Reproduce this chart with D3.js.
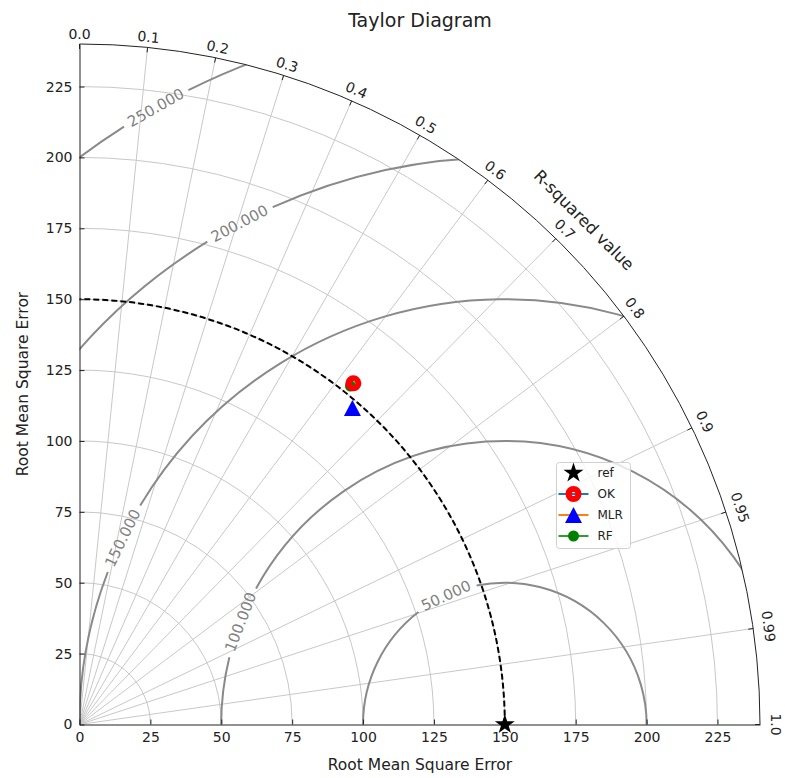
<!DOCTYPE html>
<html>
<head>
<meta charset="utf-8">
<script src="https://cdn.jsdelivr.net/npm/d3@7"></script>
<style>
  body { margin: 0; background: #fff; }
  text { font-family: "DejaVu Sans", sans-serif; }
</style>
</head>
<body>
<svg id="chart" width="785" height="778"></svg>
<script>
// data
var names = ["ref", "OK", "MLR", "RF"];
var stdDevs = [150, 154.3, 147.4, 152.9];
var corrs = [1.0, 0.626, 0.653, 0.625];
var radialTicks = [0, 25, 50, 75, 100, 125, 150, 175, 200, 225];
var corrTicks = [0, 0.1, 0.2, 0.3, 0.4, 0.5, 0.6, 0.7, 0.8, 0.9, 0.95, 0.99, 1.0];
var corrTickLabels = ["0.0", "0.1", "0.2", "0.3", "0.4", "0.5", "0.6", "0.7", "0.8", "0.9", "0.95", "0.99", "1.0"];
var rmsLevels = [50, 100, 150, 200, 250];
var rmsLabels = ["50.000", "100.000", "150.000", "200.000", "250.000"];
var refStd = 150;
var maxStd = 240;

// where each contour label sits (degrees round the contour centre)
var labelAt = { 50: 114.5, 100: 158.8, 150: 154, 200: 117.9, 250: 119.5 };

var styles = {
  ref: { shape: "star", color: "#000000", line: null },
  OK:  { shape: "ring", color: "#ff0000", line: "#1f77b4" },
  MLR: { shape: "tri",  color: "#0000ff", line: "#ff7f0e" },
  RF:  { shape: "dot",  color: "#008000", line: "#2ca02c" }
};

var svg = d3.select("#chart");
svg.append("rect").attr("width", 785).attr("height", 778).attr("fill", "#fff");

var x = d3.scaleLinear().domain([0, maxStd]).range([79.5, 760]);
var y = d3.scaleLinear().domain([0, maxStd]).range([724.5, 44]);
var k = x(1) - x(0);
var cx = x(0), cy = y(0), R = x(maxStd) - x(0);

function polar(s, c) {
  var a = Math.acos(c);
  return [x(s * Math.cos(a)), y(s * Math.sin(a))];
}

svg.append("defs").append("clipPath").attr("id", "quad").append("path")
  .attr("d", "M" + cx + "," + cy + "L" + cx + "," + (cy - R) +
    "A" + R + "," + R + " 0 0 1 " + (cx + R) + "," + cy + "Z");

// grid: std circles and correlation rays
var grid = svg.append("g").attr("fill", "none").attr("stroke", "#c8c8c8").attr("stroke-width", 1);
grid.selectAll("path").data(radialTicks.filter(function (d) { return d > 0; })).join("path")
  .attr("d", function (s) { var p = d3.path(); p.arc(cx, cy, s * k, -Math.PI / 2, 0); return p.toString(); });
grid.selectAll("line").data(corrTicks.filter(function (c) { return c > 0 && c < 1; })).join("line")
  .attr("x1", cx).attr("y1", cy)
  .attr("x2", function (c) { return polar(maxStd, c)[0]; })
  .attr("y2", function (c) { return polar(maxStd, c)[1]; });

// RMS contours centred on the reference point
var cont = svg.append("g").attr("clip-path", "url(#quad)").attr("fill", "none")
  .attr("stroke", "#8a8a8a").attr("stroke-width", 2);
var contLab = svg.append("g").attr("fill", "#808080").attr("font-size", 15).attr("text-anchor", "middle");
rmsLevels.forEach(function (lv, i) {
  var deg = labelAt[lv], t0 = deg * Math.PI / 180;
  var ccx = x(refStd), rp = lv * k;
  var lx = ccx + rp * Math.cos(t0), ly = cy - rp * Math.sin(t0);
  var txt = contLab.append("text")
    .attr("transform", "translate(" + lx + "," + ly + ") rotate(" + (90 - deg) + ")")
    .attr("dy", "0.35em").text(rmsLabels[i]);
  var w = txt.node().getComputedTextLength();
  var dt = (w / 2 + 6) / rp;
  var p = d3.path();
  p.arc(ccx, cy, rp, -t0 + dt, -t0 - dt + 2 * Math.PI, false);
  cont.append("path").attr("d", p.toString());
});

// reference std dashed circle
var refPath = d3.path();
refPath.arc(cx, cy, refStd * k, 0, -Math.PI / 2, true);
svg.append("path").attr("d", refPath.toString()).attr("fill", "none")
  .attr("stroke", "#000").attr("stroke-width", 2).attr("stroke-dasharray", "6,3");

// axes
var xAxis = d3.axisBottom(x).tickValues(radialTicks).tickSizeInner(-5).tickSizeOuter(0).tickPadding(8);
var yAxis = d3.axisLeft(y).tickValues(radialTicks).tickSizeInner(-5).tickSizeOuter(0).tickPadding(7);
var gx = svg.append("g").attr("transform", "translate(0," + cy + ")").call(xAxis);
var gy = svg.append("g").attr("transform", "translate(" + cx + ",0)").call(yAxis);
[gx, gy].forEach(function (g) {
  g.attr("font-family", null).attr("font-size", 14);
  g.selectAll("text").attr("fill", "#222");
  g.selectAll("line, path").attr("stroke", "#222");
});

// outer arc with inward ticks and tangent labels
var outer = d3.path();
outer.arc(cx, cy, R, -Math.PI / 2, 0);
svg.append("path").attr("d", outer.toString()).attr("fill", "none").attr("stroke", "#222").attr("stroke-width", 1);
svg.append("g").attr("stroke", "#222").selectAll("line").data(corrTicks).join("line")
  .attr("x1", function (c) { return polar(maxStd, c)[0]; })
  .attr("y1", function (c) { return polar(maxStd, c)[1]; })
  .attr("x2", function (c) { return polar(maxStd - 5 / k, c)[0]; })
  .attr("y2", function (c) { return polar(maxStd - 5 / k, c)[1]; });
svg.append("g").attr("font-size", 14).attr("fill", "#222").attr("text-anchor", "middle")
  .selectAll("text").data(corrTicks).join("text")
  .attr("transform", function (c) {
    var deg = Math.acos(c) * 180 / Math.PI;
    var off = 10 + 6 * (1 - deg / 90);
    var p = polar(maxStd + off / k, c);
    return "translate(" + p[0] + "," + p[1] + ") rotate(" + (90 - deg) + ")";
  })
  .attr("dy", "0.35em")
  .text(function (c, i) { return corrTickLabels[i]; });

var rl = polar(maxStd + 33 / k, Math.cos(Math.PI / 4));
svg.append("text").attr("transform", "translate(" + rl[0] + "," + rl[1] + ") rotate(45)")
  .attr("text-anchor", "middle").attr("dy", "0.35em").attr("font-size", 16.5).attr("fill", "#222")
  .text("R-squared value");

// titles
svg.append("text").attr("x", 420).attr("y", 27).attr("text-anchor", "middle")
  .attr("font-size", 19).attr("fill", "#222").text("Taylor Diagram");
svg.append("text").attr("x", 420).attr("y", 770).attr("text-anchor", "middle")
  .attr("font-size", 15.5).attr("fill", "#222").text("Root Mean Square Error");
svg.append("text").attr("transform", "translate(28,384) rotate(-90)").attr("text-anchor", "middle")
  .attr("font-size", 15.5).attr("fill", "#222").text("Root Mean Square Error");

function drawMarker(g, name) {
  var st = styles[name];
  if (st.shape === "star") {
    g.append("path").attr("d", d3.symbol().type(d3.symbolStar).size(124)()).attr("fill", st.color);
  } else if (st.shape === "ring") {
    g.append("circle").attr("r", 5).attr("fill", "none").attr("stroke", st.color).attr("stroke-width", 6);
  } else if (st.shape === "tri") {
    g.append("path").attr("d", "M0,-8L8.5,8L-8.5,8Z").attr("fill", st.color);
  } else {
    g.append("circle").attr("r", 5.5).attr("fill", st.color);
  }
}

// points, drawn last-series-first so the OK ring sits on top of RF
var pts = svg.append("g");
d3.range(names.length).reverse().forEach(function (i) {
  var p = polar(stdDevs[i], corrs[i]);
  drawMarker(pts.append("g").attr("transform", "translate(" + p[0] + "," + p[1] + ")"), names[i]);
});

// legend
var lg = svg.append("g").attr("transform", "translate(556.5,462.5)");
lg.append("rect").attr("width", 74).attr("height", 86).attr("rx", 3)
  .attr("fill", "#fff").attr("fill-opacity", 0.8).attr("stroke", "#d0d0d0");
names.forEach(function (n, i) {
  var row = lg.append("g").attr("transform", "translate(0," + (10.5 + i * 21) + ")");
  if (styles[n].line) {
    row.append("line").attr("x1", 2).attr("x2", 32).attr("stroke", styles[n].line).attr("stroke-width", 2);
  }
  drawMarker(row.append("g").attr("transform", "translate(17,0)"), n);
  row.append("text").attr("x", 41).attr("dy", "0.35em").attr("font-size", 12).attr("fill", "#222").text(n);
});
</script>
</body>
</html>
